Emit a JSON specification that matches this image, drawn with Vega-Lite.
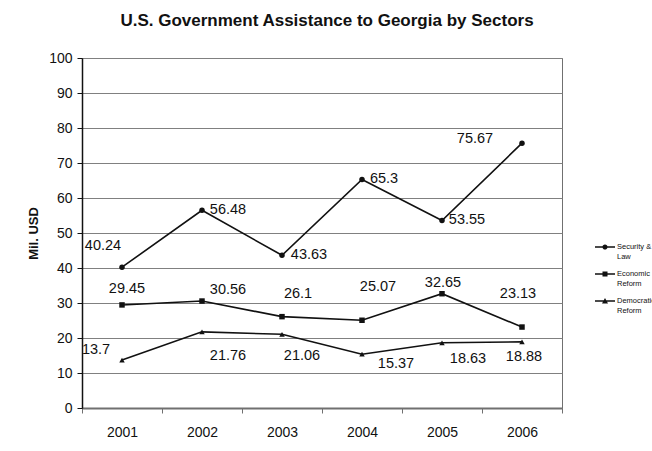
{
  "$schema": "https://vega.github.io/schema/vega-lite/v6.json",
  "width": 480,
  "height": 350,
  "autosize": {"type": "none"},
  "padding": {"left": 82, "top": 58, "right": 90, "bottom": 43},
  "background": "white",
  "config": {
    "font": "Liberation Sans",
    "view": {"stroke": "#707070", "strokeWidth": 1}
  },
  "title": {
    "text": "U.S. Government Assistance to Georgia by Sectors",
    "fontSize": 17,
    "fontWeight": "bold",
    "color": "#111",
    "font": "Liberation Sans",
    "offset": 21,
    "dx": 5
  },
  "data": {
    "values": [
      {"year": "2001", "series": "Security & Law", "value": 40.24},
      {"year": "2002", "series": "Security & Law", "value": 56.48},
      {"year": "2003", "series": "Security & Law", "value": 43.63},
      {"year": "2004", "series": "Security & Law", "value": 65.3},
      {"year": "2005", "series": "Security & Law", "value": 53.55},
      {"year": "2006", "series": "Security & Law", "value": 75.67},
      {"year": "2001", "series": "Economic Reform", "value": 29.45},
      {"year": "2002", "series": "Economic Reform", "value": 30.56},
      {"year": "2003", "series": "Economic Reform", "value": 26.1},
      {"year": "2004", "series": "Economic Reform", "value": 25.07},
      {"year": "2005", "series": "Economic Reform", "value": 32.65},
      {"year": "2006", "series": "Economic Reform", "value": 23.13},
      {"year": "2001", "series": "Democratic Reform", "value": 13.7},
      {"year": "2002", "series": "Democratic Reform", "value": 21.76},
      {"year": "2003", "series": "Democratic Reform", "value": 21.06},
      {"year": "2004", "series": "Democratic Reform", "value": 15.37},
      {"year": "2005", "series": "Democratic Reform", "value": 18.63},
      {"year": "2006", "series": "Democratic Reform", "value": 18.88}
    ]
  },
  "encoding": {
    "x": {
      "field": "year",
      "type": "ordinal",
      "scale": {"type": "band", "paddingInner": 0, "paddingOuter": 0},
      "sort": ["2001", "2002", "2003", "2004", "2005", "2006"],
      "axis": {
        "title": null,
        "orient": "bottom",
        "ticks": true,
        "tickBand": "extent",
        "tickSize": 5,
        "tickColor": "#707070",
        "labelAngle": 0,
        "labelFontSize": 14,
        "labelColor": "#111",
        "labelPadding": 12,
        "domainColor": "#707070",
        "domainWidth": 2,
        "grid": false
      }
    },
    "y": {
      "field": "value",
      "type": "quantitative",
      "scale": {"domain": [0, 100], "nice": false, "zero": true},
      "axis": {
        "title": "Mil. USD",
        "titleFontSize": 13,
        "titleFontWeight": "bold",
        "titleColor": "#111",
        "titlePadding": 8,
        "values": [0, 10, 20, 30, 40, 50, 60, 70, 80, 90, 100],
        "labelFontSize": 14,
        "labelColor": "#111",
        "labelPadding": 5,
        "labelOverlap": false,
        "tickSize": 5,
        "tickColor": "#111",
        "domainColor": "#111",
        "domainWidth": 1.5,
        "grid": true,
        "gridColor": "#808080",
        "gridWidth": 1,
        "gridOpacity": 1
      }
    }
  },
  "layer": [
    {
      "mark": {"type": "line", "color": "#111", "strokeWidth": 1.6},
      "encoding": {
        "detail": {"field": "series"}
      }
    },
    {
      "mark": {"type": "point", "opacity": 0, "filled": true, "color": "#111"},
      "encoding": {
        "shape": {
          "field": "series",
          "type": "nominal",
          "sort": ["Security & Law", "Economic Reform", "Democratic Reform"],
          "scale": {
            "domain": ["Security & Law", "Economic Reform", "Democratic Reform"],
            "range": [
              "M-1,-0.08H1V0.08H-1ZM-0.26,0A0.26,0.26,0,1,1,0.26,0A0.26,0.26,0,1,1,-0.26,0Z",
              "M-1,-0.08H1V0.08H-1ZM-0.25,-0.25H0.25V0.25H-0.25Z",
              "M-1,-0.08H1V0.08H-1ZM0,-0.3L0.3,0.25H-0.3Z"
            ]
          },
          "legend": {
            "title": null,
            "orient": "none",
            "legendX": 513,
            "legendY": 179,
            "padding": 0,
            "symbolSize": 400,
            "symbolStrokeWidth": 0,
            "symbolFillColor": "#111",
            "labelFontSize": 7.5,
            "labelLineHeight": 10,
            "labelOffset": 2,
            "labelLimit": 200,
            "labelColor": "#111",
            "rowPadding": 4,
            "labelExpr": "datum.label == 'Security & Law' ? ['Security &', 'Law'] : split(datum.label, ' ')",
            "encode": {
              "symbols": {"update": {"opacity": {"value": 1}, "fill": {"value": "#111"}, "fillOpacity": {"value": 1}}}
            }
          }
        }
      }
    },
    {
      "mark": {"type": "point", "filled": true, "color": "#111", "size": 30, "opacity": 1},
      "encoding": {
        "shape": {
          "field": "series",
          "type": "nominal",
          "scale": {
            "domain": ["Security & Law", "Economic Reform", "Democratic Reform"],
            "range": ["circle", "square", "triangle-up"]
          },
          "legend": null
        }
      }
    },
    {
      "mark": {"type": "text", "fontSize": 14.5, "color": "#111"},
      "encoding": {"text": {"field": "value", "type": "quantitative"}},
      "layer": [
        {"transform": [{"filter": "datum.series == 'Security & Law' && datum.year == '2001'"}], "mark": {"type": "text", "fontSize": 14.5, "color": "#111", "dx": -19, "dy": -21}},
        {"transform": [{"filter": "datum.series == 'Security & Law' && datum.year == '2002'"}], "mark": {"type": "text", "fontSize": 14.5, "color": "#111", "dx": 26, "dy": 0}},
        {"transform": [{"filter": "datum.series == 'Security & Law' && datum.year == '2003'"}], "mark": {"type": "text", "fontSize": 14.5, "color": "#111", "dx": 27, "dy": 0}},
        {"transform": [{"filter": "datum.series == 'Security & Law' && datum.year == '2004'"}], "mark": {"type": "text", "fontSize": 14.5, "color": "#111", "dx": 22, "dy": 0}},
        {"transform": [{"filter": "datum.series == 'Security & Law' && datum.year == '2005'"}], "mark": {"type": "text", "fontSize": 14.5, "color": "#111", "dx": 25, "dy": -1}},
        {"transform": [{"filter": "datum.series == 'Security & Law' && datum.year == '2006'"}], "mark": {"type": "text", "fontSize": 14.5, "color": "#111", "dx": -47, "dy": -4}},
        {"transform": [{"filter": "datum.series == 'Economic Reform' && datum.year == '2001'"}], "mark": {"type": "text", "fontSize": 14.5, "color": "#111", "dx": 5, "dy": -16}},
        {"transform": [{"filter": "datum.series == 'Economic Reform' && datum.year == '2002'"}], "mark": {"type": "text", "fontSize": 14.5, "color": "#111", "dx": 26, "dy": -11}},
        {"transform": [{"filter": "datum.series == 'Economic Reform' && datum.year == '2003'"}], "mark": {"type": "text", "fontSize": 14.5, "color": "#111", "dx": 16, "dy": -23}},
        {"transform": [{"filter": "datum.series == 'Economic Reform' && datum.year == '2004'"}], "mark": {"type": "text", "fontSize": 14.5, "color": "#111", "dx": 16, "dy": -33}},
        {"transform": [{"filter": "datum.series == 'Economic Reform' && datum.year == '2005'"}], "mark": {"type": "text", "fontSize": 14.5, "color": "#111", "dx": 1, "dy": -11}},
        {"transform": [{"filter": "datum.series == 'Economic Reform' && datum.year == '2006'"}], "mark": {"type": "text", "fontSize": 14.5, "color": "#111", "dx": -4, "dy": -33}},
        {"transform": [{"filter": "datum.series == 'Democratic Reform' && datum.year == '2001'"}], "mark": {"type": "text", "fontSize": 14.5, "color": "#111", "dx": -26, "dy": -10}},
        {"transform": [{"filter": "datum.series == 'Democratic Reform' && datum.year == '2002'"}], "mark": {"type": "text", "fontSize": 14.5, "color": "#111", "dx": 26, "dy": 24}},
        {"transform": [{"filter": "datum.series == 'Democratic Reform' && datum.year == '2003'"}], "mark": {"type": "text", "fontSize": 14.5, "color": "#111", "dx": 20, "dy": 22}},
        {"transform": [{"filter": "datum.series == 'Democratic Reform' && datum.year == '2004'"}], "mark": {"type": "text", "fontSize": 14.5, "color": "#111", "dx": 34, "dy": 10}},
        {"transform": [{"filter": "datum.series == 'Democratic Reform' && datum.year == '2005'"}], "mark": {"type": "text", "fontSize": 14.5, "color": "#111", "dx": 26, "dy": 16}},
        {"transform": [{"filter": "datum.series == 'Democratic Reform' && datum.year == '2006'"}], "mark": {"type": "text", "fontSize": 14.5, "color": "#111", "dx": 2, "dy": 15}}
      ]
    }
  ],
  "resolve": {"scale": {"shape": "independent"}}
}
